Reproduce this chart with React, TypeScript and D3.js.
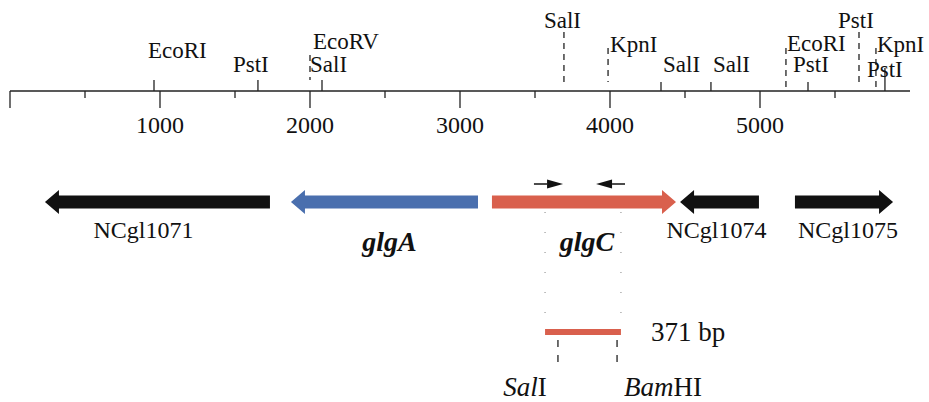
import React from "react";
import * as d3 from "d3";

// scale (bp)
const axisDomain = [0, 6000];
const majorTicks = [0, 1000, 2000, 3000, 4000, 5000];
const minorTicks = [500, 1500, 2500, 3500, 4500, 5500];

// restriction sites
const siteNames = ["EcoRI", "PstI", "EcoRV", "SalI", "SalI", "KpnI", "SalI", "SalI", "EcoRI", "PstI", "PstI", "KpnI", "PstI"];
const sitePos = [960, 1653, 2000, 2080, 3693, 3987, 4340, 4673, 5173, 5320, 5660, 5773, 5833];

// genes
const geneNames = ["NCgl1071", "glgA", "glgC", "NCgl1074", "NCgl1075"];
const geneStart = [233, 1873, 3213, 4467, 5233];
const geneEnd = [1733, 3120, 4440, 4993, 5887];
const geneStrand = [-1, -1, 1, -1, 1];

// primers and PCR fragment
const primerFrom = [3493, 4100];
const primerTo = [3687, 3907];
const fragment = [3567, 4073];
const fragmentLabel = "371 bp";
const cutSites = [3653, 4047];
const cutNames = [["Sal", "I"], ["Bam", "HI"]];

// label layout for sites: baseline, tick top, dashed, label dx
const siteLayout = [
  { y: 58, top: 80, dash: false, dx: -6 },
  { y: 72, top: 80, dash: false, dx: -25 },
  { y: 49, top: 55, dash: true, dx: 3, bottom: 80 },
  { y: 72, top: 80, dash: false, dx: -12 },
  { y: 28, top: 32, dash: true, dx: -20, bottom: 83 },
  { y: 52, top: 48, dash: true, dx: 2, bottom: 82 },
  { y: 72, top: 82, dash: false, dx: 2 },
  { y: 72, top: 82, dash: false, dx: 2 },
  { y: 51, top: 48, dash: true, dx: 1 },
  { y: 72, top: 82, dash: false, dx: -15 },
  { y: 28, top: 32, dash: true, dx: -21, bottom: 82 },
  { y: 52, top: 48, dash: true, dx: 1 },
  { y: 77, top: 68, dash: false, dx: -18 },
];
const geneColors = ["#111", "#4a6fae", "#d9604d", "#111", "#111"];
const geneLabelDx = [-14, 5, 3, -3, 4];
const cutLabelDx = [-33, 46];

const FONT = "'Liberation Serif', 'Times New Roman', serif";

export default function App() {
  const x = d3.scaleLinear().domain(axisDomain).range([10, 910]);
  const axisY = 91;
  const geneY = 202;

  const arrowPath = (s: number, e: number, strand: number) => {
    const sh = 6.5, hh = 12, hl = 14;
    const p = d3.path();
    if (strand > 0) {
      const a = x(s), b = x(e);
      p.moveTo(a, geneY - sh);
      p.lineTo(b - hl, geneY - sh);
      p.lineTo(b - hl, geneY - hh);
      p.lineTo(b, geneY);
      p.lineTo(b - hl, geneY + hh);
      p.lineTo(b - hl, geneY + sh);
      p.lineTo(a, geneY + sh);
    } else {
      const a = x(e), b = x(s);
      p.moveTo(a, geneY - sh);
      p.lineTo(b + hl, geneY - sh);
      p.lineTo(b + hl, geneY - hh);
      p.lineTo(b, geneY);
      p.lineTo(b + hl, geneY + hh);
      p.lineTo(b + hl, geneY + sh);
      p.lineTo(a, geneY + sh);
    }
    p.closePath();
    return p.toString();
  };

  const primerY = 184;
  const fragY = 332;

  return (
    <svg width={929} height={402} style={{ position: "absolute", left: 0, top: 0, background: "#fff" }} fontFamily={FONT}>
      {/* axis */}
      <line x1={x(0)} x2={x(6000)} y1={axisY} y2={axisY} stroke="#222" strokeWidth={1.3} />
      {majorTicks.map((t) => (
        <g key={"M" + t}>
          <line x1={x(t)} x2={x(t)} y1={axisY} y2={108} stroke="#222" strokeWidth={1.3} />
          {t > 0 && (
            <text x={x(t)} y={133} fontSize={24} textAnchor="middle" fill="#111">{t}</text>
          )}
        </g>
      ))}
      {minorTicks.map((t) => (
        <line key={"m" + t} x1={x(t)} x2={x(t)} y1={axisY} y2={98} stroke="#222" strokeWidth={1.3} />
      ))}

      {/* restriction sites */}
      {siteNames.map((n, i) => {
        const L = siteLayout[i];
        const sx = x(sitePos[i]);
        return (
          <g key={"s" + i}>
            <line x1={sx} x2={sx} y1={L.top} y2={L.bottom ?? axisY} stroke="#222" strokeWidth={1.3}
              strokeDasharray={L.dash ? "6,5" : undefined} />
            <text x={sx + L.dx} y={L.y} fontSize={23} fill="#111">{n}</text>
          </g>
        );
      })}

      {/* genes */}
      {geneNames.map((n, i) => {
        const cx = (x(geneStart[i]) + x(geneEnd[i])) / 2 + geneLabelDx[i];
        const italic = n.startsWith("glg");
        return (
          <g key={"g" + i}>
            <path d={arrowPath(geneStart[i], geneEnd[i], geneStrand[i])} fill={geneColors[i]} />
            <text x={cx} y={italic ? 251 : 238} fontSize={italic ? 28 : 24} textAnchor="middle"
              fontStyle={italic ? "italic" : "normal"} fontWeight={italic ? "bold" : "normal"} fill="#111">{n}</text>
          </g>
        );
      })}

      {/* primers */}
      {primerFrom.map((f, i) => {
        const a = x(f), b = x(primerTo[i]);
        const dir = b > a ? 1 : -1;
        const hb = b - dir * 16;
        return (
          <g key={"p" + i}>
            <line x1={a} x2={hb} y1={primerY} y2={primerY} stroke="#111" strokeWidth={1.5} />
            <path d={`M${b},${primerY}L${hb},${primerY - 4.5}L${hb},${primerY + 4.5}Z`} fill="#111" />
          </g>
        );
      })}

      {/* dotted guides */}
      {fragment.map((f, i) => (
        <line key={"d" + i} x1={x(f)} x2={x(f)} y1={212} y2={318} stroke="#999" strokeWidth={1.2}
          strokeDasharray="1,19" />
      ))}

      {/* PCR fragment */}
      <line x1={x(fragment[0])} x2={x(fragment[1])} y1={fragY} y2={fragY} stroke="#d9604d" strokeWidth={6} />
      <text x={651} y={341} fontSize={27} fill="#111">{fragmentLabel}</text>

      {/* cut sites */}
      {cutSites.map((c, i) => (
        <g key={"c" + i}>
          <line x1={x(c)} x2={x(c)} y1={340} y2={369} stroke="#222" strokeWidth={1.3} strokeDasharray="7,8" />
          <text x={x(c) + cutLabelDx[i]} y={396} fontSize={27} textAnchor="middle" fill="#111">
            <tspan fontStyle="italic">{cutNames[i][0]}</tspan>
            <tspan>{cutNames[i][1]}</tspan>
          </text>
        </g>
      ))}
    </svg>
  );
}
